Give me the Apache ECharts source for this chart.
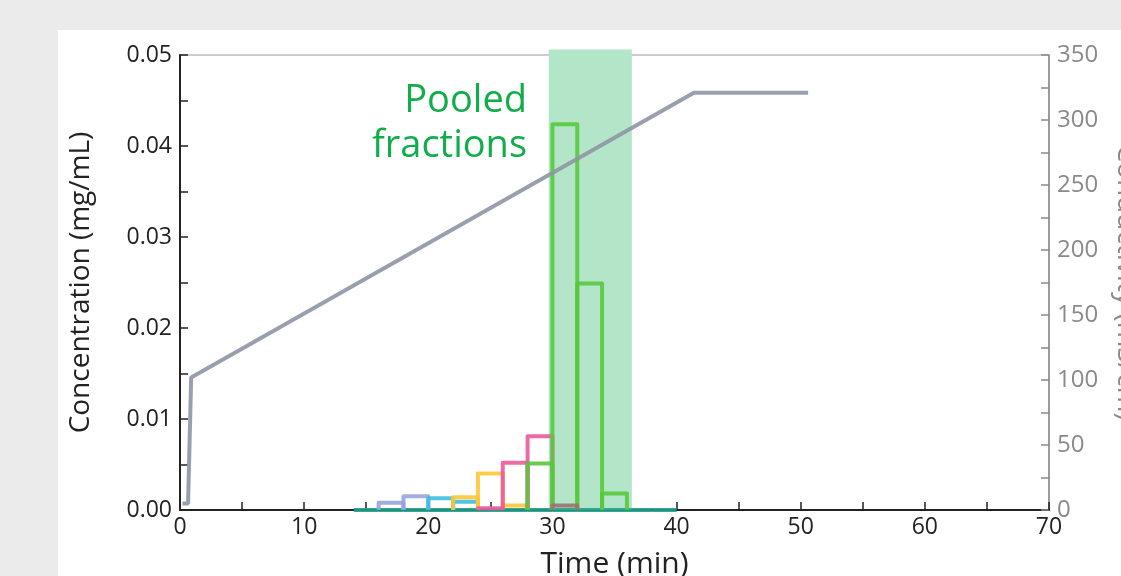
<!DOCTYPE html>
<html>
<head>
<meta charset="utf-8">
<script src="https://cdn.jsdelivr.net/npm/echarts@6/dist/echarts.min.js"></script>
<style>
html,body{margin:0;padding:0;background:#ebebeb;}
#chart{width:1121px;height:576px;}
</style>
</head>
<body>
<div id="chart"></div>
<script>
// ---- data ----
const fractionStarts = [14, 16, 18, 20, 22, 24, 26, 28, 30, 32, 34, 36, 38];
const fractionWidth = 2;
const concBaseline = [0, 0, 0, 0, 0, 0, 0, 0, 0, 0, 0, 0, 0];
const concLavender = [null, 0.0008, 0.0015, null, null, null, null, null, null, null, null, null, null];
const concCyan     = [null, null, null, 0.0013, 0.0009, null, null, null, null, null, null, null, null];
const concYellow   = [null, null, null, null, 0.0014, 0.0040, 0.0005, null, null, null, null, null, null];
const concPink     = [null, null, null, null, null, 0.0002, 0.0052, 0.0081, null, null, null, null, null];
const concBrown    = [null, null, null, null, null, null, null, null, 0.0005, null, null, null, null];
const concGreen    = [null, null, null, null, null, null, null, 0.0051, 0.0424, 0.0249, 0.0018, null, null];

const gradientTime  = [0.2, 0.65, 0.9, 41.4, 50.6];
const gradientValue = [5, 5, 102, 321, 321];

const pooledStart = 29.7;
const pooledEnd = 36.4;

const xTickLabels = ['0', '10', '20', '30', '40', '50', '60', '70'];
const leftTickLabels = ['0.00', '0.01', '0.02', '0.03', '0.04', '0.05'];
const rightTickLabels = ['0', '50', '100', '150', '200', '250', '300', '350'];

// ---- build ----
const FONT = 'Open Sans';
function fractionItems(values) {
  const out = [];
  values.forEach((v, i) => {
    if (v !== null) out.push([fractionStarts[i], fractionStarts[i] + fractionWidth, v]);
  });
  return out;
}
function fractionSeries(name, values, color, z) {
  return {
    name: name,
    type: 'custom',
    xAxisIndex: 0,
    yAxisIndex: 0,
    z: z,
    encode: { x: [0, 1], y: 2 },
    data: fractionItems(values),
    renderItem: function (params, api) {
      const x0 = api.value(0), x1 = api.value(1), v = api.value(2);
      const p0 = api.coord([x0, 0]);
      const p1 = api.coord([x0, v]);
      const p2 = api.coord([x1, v]);
      const p3 = api.coord([x1, 0]);
      return {
        type: 'polyline',
        shape: { points: [p0, p1, p2, p3] },
        style: { stroke: color, fill: null, lineWidth: 4, lineJoin: 'round', lineCap: 'butt', opacity: 0.9 }
      };
    }
  };
}

const chart = echarts.init(document.getElementById('chart'), null, { renderer: 'canvas' });
const option = {
  backgroundColor: '#ebebeb',
  animation: false,
  textStyle: { fontFamily: FONT },
  graphic: [
    { type: 'rect', z: -1, shape: { x: 58, y: 30, width: 1121 - 58, height: 576 - 30 }, style: { fill: '#ffffff' } },
    { type: 'text', z: 10, x: 527, y: 101, style: { text: 'Pooled', fill: '#0fae4b', font: '38px "Open Sans"', textAlign: 'right', textVerticalAlign: 'middle' } },
    { type: 'text', z: 10, x: 527, y: 146, style: { text: 'fractions', fill: '#0fae4b', font: '38px "Open Sans"', textAlign: 'right', textVerticalAlign: 'middle' } }
  ],
  grid: { left: 180, right: 72, top: 55, bottom: 66, containLabel: false, outerBoundsMode: 'none', show: true, borderColor: '#9a9a9a', borderWidth: 1, backgroundColor: 'transparent' },
  xAxis: {
    type: 'value', min: 0, max: 70, interval: 10,
    name: 'Time (min)', nameLocation: 'middle', nameGap: 39,
    nameTextStyle: { fontSize: 30, color: '#222', fontFamily: FONT },
    axisLine: { show: true, lineStyle: { color: '#222', width: 2 } },
    axisTick: { show: true, inside: true, length: 8, lineStyle: { color: '#222', width: 1.5 } },
    minorTick: { show: true, splitNumber: 2, length: 8, lineStyle: { color: '#222', width: 1.5 } },
    axisLabel: { fontSize: 23, color: '#222', margin: 6, formatter: (v) => xTickLabels[Math.round(v / 10)] },
    splitLine: { show: false }
  },
  yAxis: [
    {
      type: 'value', min: 0, max: 0.05, interval: 0.01, position: 'left',
      name: 'Concentration (mg/mL)', nameLocation: 'middle', nameGap: 85,
      nameTextStyle: { fontSize: 28, color: '#222', fontFamily: FONT },
      axisLine: { show: true, lineStyle: { color: '#222', width: 2 } },
      axisTick: { show: true, inside: true, length: 8, lineStyle: { color: '#222', width: 1.5 } },
      minorTick: { show: true, splitNumber: 2, length: 8, lineStyle: { color: '#222', width: 1.5 } },
      axisLabel: { fontSize: 23, color: '#222', margin: 8, formatter: (v) => leftTickLabels[Math.round(v * 100)] },
      splitLine: { show: false }
    },
    {
      type: 'value', min: 0, max: 350, interval: 50, position: 'right',
      name: 'Conductivity (mS/cm)', nameLocation: 'middle', nameGap: 63, nameRotate: -90,
      nameTextStyle: { fontSize: 28, color: '#8a8a8a', fontFamily: FONT },
      axisLine: { show: true, lineStyle: { color: '#8a8a8a', width: 1.5 } },
      axisTick: { show: true, inside: true, length: 8, lineStyle: { color: '#8a8a8a', width: 1.5 } },
      minorTick: { show: true, splitNumber: 2, length: 8, lineStyle: { color: '#8a8a8a', width: 1.5 } },
      axisLabel: { fontSize: 24, color: '#8a8a8a', margin: 8, formatter: (v) => rightTickLabels[Math.round(v / 50)] },
      splitLine: { show: false }
    }
  ],
  series: [
    {
      name: 'Pooled',
      type: 'custom',
      z: 1,
      clip: false,
      xAxisIndex: 0, yAxisIndex: 0,
      encode: { x: [0, 1] },
      data: [[pooledStart, pooledEnd]],
      renderItem: function (params, api) {
        const a = api.coord([api.value(0), 0]);
        const b = api.coord([api.value(1), 0.0506]);
        return { type: 'rect', shape: { x: a[0], y: b[1], width: b[0] - a[0], height: a[1] - b[1] }, style: { fill: '#b3e6c9' } };
      }
    },
    fractionSeries('F-teal', concBaseline, '#1f9e89', 3),
    fractionSeries('F-lavender', concLavender, '#96a3df', 4),
    fractionSeries('F-cyan', concCyan, '#3fbfdf', 4),
    fractionSeries('F-yellow', concYellow, '#fdc737', 4),
    fractionSeries('F-pink', concPink, '#ec5a9b', 5),
    fractionSeries('F-green', concGreen, '#58c83c', 6),
    fractionSeries('F-brown', concBrown, '#9b7070', 7),
    {
      name: 'Gradient',
      type: 'line',
      xAxisIndex: 0, yAxisIndex: 1,
      z: 8,
      showSymbol: false,
      symbol: 'none',
      data: gradientTime.map((t, i) => [t, gradientValue[i]]),
      lineStyle: { color: '#8e96a4', width: 4, opacity: 0.9 }
    }
  ]
};
chart.setOption(option);
</script>
</body>
</html>
